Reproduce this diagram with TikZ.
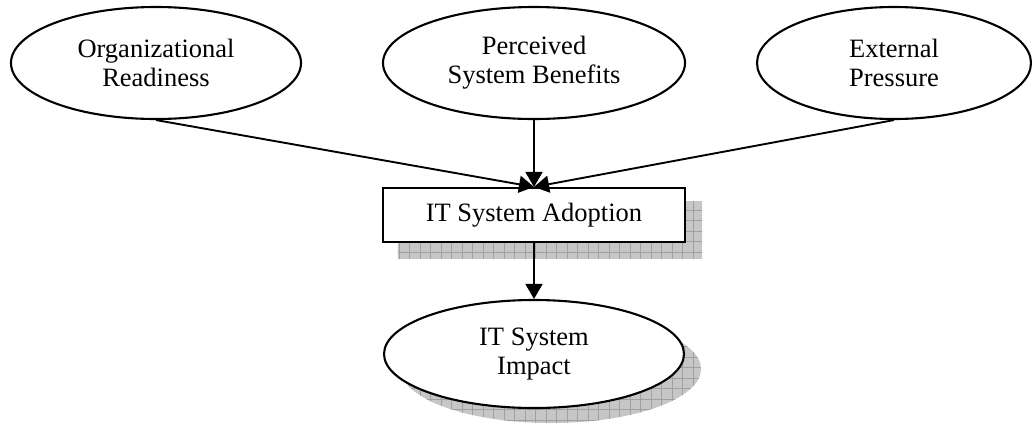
\documentclass[tikz,border=0pt]{standalone}
\usepackage{fontspec}
\setmainfont{Liberation Serif}
\usetikzlibrary{shapes.geometric, arrows.meta, backgrounds}

\definecolor{shadefill}{HTML}{C6C6C6}
\definecolor{shadeline}{HTML}{A0A0A0}

\begin{document}
\begin{tikzpicture}[x=1pt, y=-1pt,
  label font/.style={font=\fontsize{26.5}{29}\selectfont},
  concept/.style={ellipse, draw, line width=2.1pt, fill=white, inner sep=0pt,
    align=center, label font},
  topconcept/.style={concept, minimum width=290pt, minimum height=112pt},
  stepbox/.style={rectangle, draw, line width=2.1pt, fill=white, inner sep=0pt,
    minimum width=302pt, minimum height=54pt, label font},
  link/.style={line width=1.9pt, -{Triangle[length=15pt, width=17pt]}},
  hatch/.style={shadeline, line width=0.9pt}
]
\useasboundingbox (0,0) rectangle (1032,424);

% factors
\node[topconcept] (ready) at (156,63) {Organizational\\Readiness};
\node[topconcept, minimum width=302pt] (benefit) at (534,63) {Perceived\\System Benefits};
\node[topconcept, minimum width=274pt] (press) at (894,63) {External\\Pressure};

% adoption and impact
\node[stepbox] (adopt) at (534,215) {IT System Adoption};
\node[concept, minimum width=300pt, minimum height=108pt] (impact) at (534,354) {IT System\\Impact};

% hatched drop shadows
\begin{scope}[on background layer]
  \begin{scope}
    \clip ([shift={(16,15)}]adopt.north west) rectangle ([shift={(16,15)}]adopt.south east);
    \fill[shadefill] (0,0) rectangle (1032,424);
    \draw[hatch, step=10.5pt] (0,424) grid (1032,0);
  \end{scope}
  \begin{scope}
    \clip ([shift={(17,15)}]impact.center) ellipse [x radius=150, y radius=54];
    \fill[shadefill] (0,0) rectangle (1032,424);
    \draw[hatch, step=10.5pt] (0,424) grid (1032,0);
  \end{scope}
\end{scope}

% connectors
\draw[link] (ready.south) -- (adopt.north);
\draw[link] (benefit.south) -- (adopt.north);
\draw[link] (press.south) -- (adopt.north);
\draw[link] (adopt.south) -- (impact.north);
\end{tikzpicture}
\end{document}
